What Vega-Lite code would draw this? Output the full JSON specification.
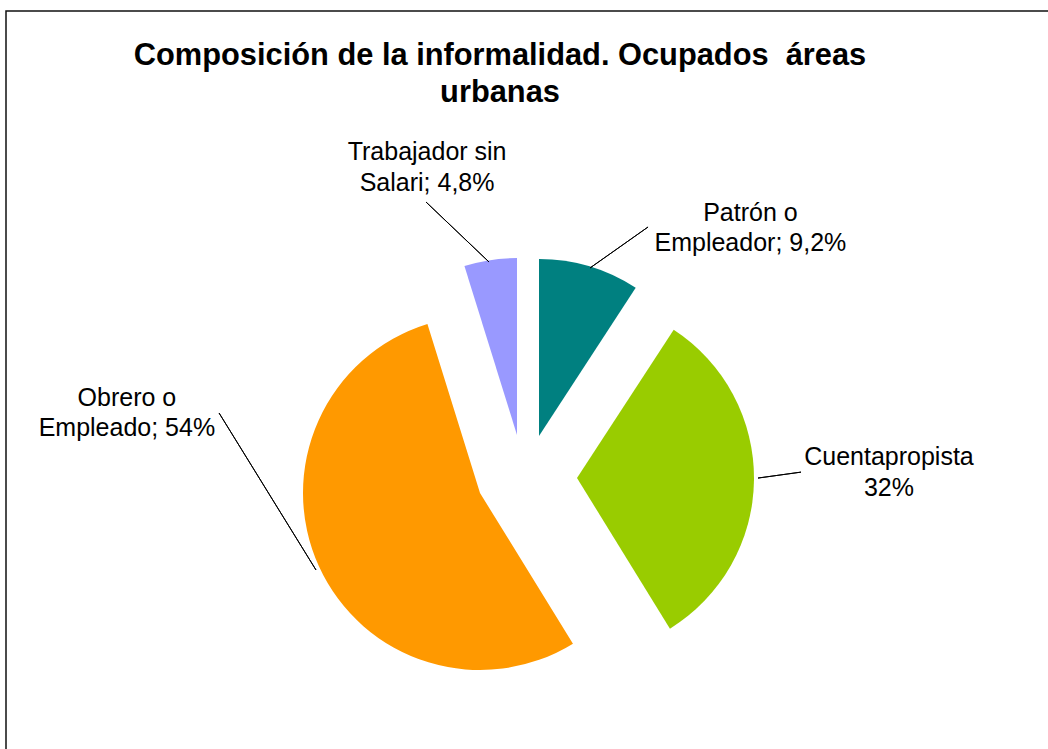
{
  "$schema": "https://vega.github.io/schema/vega-lite/v6.json",
  "width": 1100,
  "height": 1000,
  "autosize": {"type": "none"},
  "padding": {"left": 6, "top": 11, "right": 0, "bottom": 0},
  "background": "white",
  "config": {"view": {"stroke": null}, "font": "Liberation Sans"},
  "title": {
    "text": ["Composición de la informalidad. Ocupados \u00a0áreas", "urbanas"],
    "anchor": "middle",
    "frame": "group",
    "orient": "top",
    "baseline": "alphabetic",
    "offset": -151,
    "dx": -56,
    "fontSize": 30.8,
    "fontWeight": "bold",
    "font": "Liberation Sans",
    "lineHeight": 37,
    "color": "#000"
  },
  "layer": [
    {
      "data": {"values": [{"frame": "border"}]},
      "mark": {"type": "rect", "fill": "transparent", "stroke": "#111", "strokeWidth": 1.5},
      "encoding": {}
    },
    {
      "data": {
        "values": [
          {"slice": "Patrón o Empleador", "label": "Patrón o\nEmpleador; 9,2%", "value": 9.2, "idx": 1},
          {"slice": "Cuentapropista", "label": "Cuentapropista\n32%", "value": 32, "idx": 2},
          {"slice": "Obrero o Empleado", "label": "Obrero o\nEmpleado; 54%", "value": 54, "idx": 3},
          {"slice": "Trabajador sin Salari", "label": "Trabajador sin\nSalari; 4,8%", "value": 4.8, "idx": 4}
        ]
      },
      "encoding": {
        "theta": {"field": "value", "type": "quantitative", "stack": true},
        "order": {"field": "idx", "type": "quantitative"}
      },
      "layer": [
        {
          "mark": {"type": "arc", "outerRadius": 177, "xOffset": -17, "yOffset": -75},
          "encoding": {
            "color": {"field": "slice", "type": "nominal", "legend": null,
              "scale": {"domain": ["Patrón o Empleador", "Cuentapropista", "Obrero o Empleado", "Trabajador sin Salari"], "range": ["#008080", "#99CC00", "#FF9900", "#9999FF"]}},
            "fillOpacity": {"condition": {"test": "datum.slice === 'Patrón o Empleador'", "value": 1}, "value": 0}
          }
        },
        {
          "mark": {"type": "arc", "outerRadius": 177, "xOffset": 21, "yOffset": -33},
          "encoding": {
            "color": {"field": "slice", "type": "nominal", "legend": null},
            "fillOpacity": {"condition": {"test": "datum.slice === 'Cuentapropista'", "value": 1}, "value": 0}
          }
        },
        {
          "mark": {"type": "arc", "outerRadius": 177, "xOffset": -76, "yOffset": -18},
          "encoding": {
            "color": {"field": "slice", "type": "nominal", "legend": null},
            "fillOpacity": {"condition": {"test": "datum.slice === 'Obrero o Empleado'", "value": 1}, "value": 0}
          }
        },
        {
          "mark": {"type": "arc", "outerRadius": 177, "xOffset": -39, "yOffset": -76},
          "encoding": {
            "color": {"field": "slice", "type": "nominal", "legend": null},
            "fillOpacity": {"condition": {"test": "datum.slice === 'Trabajador sin Salari'", "value": 1}, "value": 0}
          }
        },
        {
          "mark": {"type": "arc", "innerRadius": 20, "outerRadius": 91, "padAngle": 3, "thetaOffset": 0.667, "theta2Offset": 0.667, "xOffset": 17.7, "yOffset": -231.5, "fillOpacity": 0, "stroke": "#000", "strokeWidth": 1},
          "encoding": {
            "strokeOpacity": {"condition": {"test": "datum.slice === 'Patrón o Empleador'", "value": 1}, "value": 0}
          }
        },
        {
          "mark": {"type": "arc", "innerRadius": 20, "outerRadius": 63.4, "padAngle": 3, "thetaOffset": -0.150, "theta2Offset": -0.150, "xOffset": 182.2, "yOffset": -30.2, "fillOpacity": 0, "stroke": "#000", "strokeWidth": 1},
          "encoding": {
            "strokeOpacity": {"condition": {"test": "datum.slice === 'Cuentapropista'", "value": 1}, "value": 0}
          }
        },
        {
          "mark": {"type": "arc", "innerRadius": 20, "outerRadius": 204.5, "padAngle": 3, "thetaOffset": 5.441, "theta2Offset": 5.441, "xOffset": -229.5, "yOffset": 76, "fillOpacity": 0, "stroke": "#000", "strokeWidth": 1},
          "encoding": {
            "strokeOpacity": {"condition": {"test": "datum.slice === 'Patrón o Empleador'", "value": 1}, "value": 0}
          }
        },
        {
          "mark": {"type": "arc", "innerRadius": 20, "outerRadius": 107, "padAngle": 3, "thetaOffset": -0.659, "theta2Offset": -0.659, "xOffset": -52.5, "yOffset": -235.2, "fillOpacity": 0, "stroke": "#000", "strokeWidth": 1},
          "encoding": {
            "strokeOpacity": {"condition": {"test": "datum.slice === 'Trabajador sin Salari'", "value": 1}, "value": 0}
          }
        },
        {
          "mark": {"type": "text", "radius": 261, "xOffset": -17, "yOffset": -75, "dx": 137, "dy": 27, "fontSize": 25, "lineHeight": 30, "lineBreak": "\n", "align": "center", "baseline": "middle", "color": "#000", "font": "Liberation Sans"},
          "encoding": {
            "text": {"field": "label"},
            "opacity": {"condition": {"test": "datum.slice === 'Patrón o Empleador'", "value": 1}, "value": 0}
          }
        },
        {
          "mark": {"type": "text", "radius": 312, "xOffset": 21, "yOffset": -33, "dx": 0, "dy": -25, "fontSize": 25, "lineHeight": 31, "lineBreak": "\n", "align": "center", "baseline": "middle", "color": "#000", "font": "Liberation Sans"},
          "encoding": {
            "text": {"field": "label"},
            "opacity": {"condition": {"test": "datum.slice === 'Cuentapropista'", "value": 1}, "value": 0}
          }
        },
        {
          "mark": {"type": "text", "radius": 288, "xOffset": -76, "yOffset": -18, "dx": -91, "dy": -214, "fontSize": 25, "lineHeight": 30, "lineBreak": "\n", "align": "center", "baseline": "middle", "color": "#000", "font": "Liberation Sans"},
          "encoding": {
            "text": {"field": "label"},
            "opacity": {"condition": {"test": "datum.slice === 'Obrero o Empleado'", "value": 1}, "value": 0}
          }
        },
        {
          "mark": {"type": "text", "radius": 279, "xOffset": -39, "yOffset": -76, "dx": -48, "dy": -7, "fontSize": 25, "lineHeight": 31, "lineBreak": "\n", "align": "center", "baseline": "middle", "color": "#000", "font": "Liberation Sans"},
          "encoding": {
            "text": {"field": "label"},
            "opacity": {"condition": {"test": "datum.slice === 'Trabajador sin Salari'", "value": 1}, "value": 0}
          }
        }
      ]
    }
  ]
}
